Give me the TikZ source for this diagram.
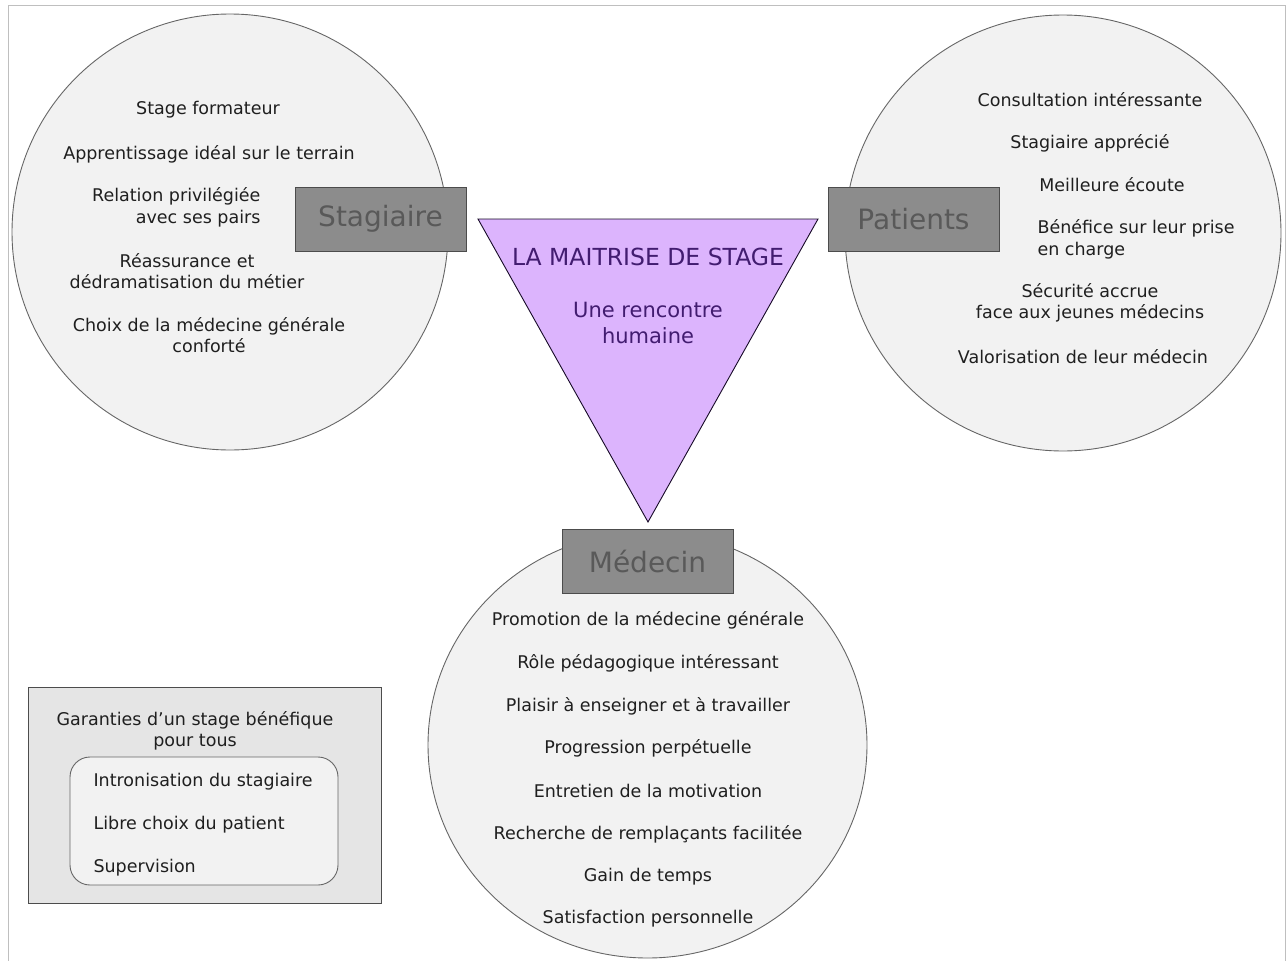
\documentclass[tikz,border=0pt]{standalone}
\usepackage{fontspec}
\setmainfont{DejaVu Sans}
\usetikzlibrary{positioning,shapes.geometric}
\definecolor{lilas}{RGB}{220,180,253}
\definecolor{violet}{RGB}{66,28,112}

\begin{document}
\begin{tikzpicture}[x=1pt,y=-1pt,
    every node/.style={font=\fontsize{17.5}{21.5}\selectfont,text=black!88},
    bulle/.style={ellipse,draw=black!60,line width=0.9pt,fill=black!5,minimum size=436pt,inner sep=0pt},
    acteur/.style={draw=black!70,line width=0.9pt,fill=black!45,text=black!65,minimum width=171pt,
      minimum height=64pt,font=\fontsize{28}{30}\selectfont},
    point/.style={align=center,yshift=-2pt}]
  \useasboundingbox (0,0) rectangle (1288,961);
  \draw[black!25,line width=1.5pt] (8.5,961) -- (8.5,5.5) -- (1285.5,5.5) -- (1285.5,961);

  % les trois bulles
  \node[bulle] (bstagiaire) at (230,232) {};
  \node[bulle] (bpatients) at (1063,233) {};
  \node[bulle,minimum width=439pt,minimum height=426pt] (bmedecin) at (647.5,745) {};

  \node[acteur] (stagiaire) at (380.5,219) {Stagiaire};
  \node[acteur] (patients) at (913.5,219.5) {Patients};
  \node[acteur] (medecin) at (647.5,561) {Médecin};

  % le triangle
  \coordinate (tg) at (478,219);
  \coordinate (td) at (818,219);
  \coordinate (tb) at (648,522);
  \filldraw[fill=lilas,draw=black!65!violet,line width=0.9pt] (tg) -- (td) -- (tb) -- cycle;
  \node[point,text=violet,font=\fontsize{23.5}{26}\selectfont] (maitrise) at (648,255) {LA MAITRISE DE STAGE};
  \node[point,text=violet,font=\fontsize{21}{26}\selectfont] (rencontre) at (648,321) {Une rencontre\\humaine};

  % stagiaire
  \node[point] (s1) at (208,108) {Stage formateur};
  \node[point,align=right,anchor=east] (s3) at (264,205.5) {Relation privilégiée\\avec ses pairs};
  \node[point] (s2) at (209,152) {Apprentissage idéal sur le terrain};
  \node[point] (s4) at (187,269) {Réassurance et\\dédramatisation du métier};
  \node[point] (s5) at (209,333) {Choix de la médecine générale\\conforté};

  % patients
  \node[point] (p1) at (1090,98) {Consultation intéressante};
  \node[point] (p2) at (1090,141) {Stagiaire apprécié};
  \node[point] (p3) at (1112,183) {Meilleure écoute};
  \node[point,align=left,anchor=west] (p4) at (1034,237.5) {Bénéfice sur leur prise\\en charge};
  \node[point] (p5) at (1090,301) {Sécurité accrue\\face aux jeunes médecins};
  \node[point] (p6) at (1083,355) {Valorisation de leur médecin};

  % medecin
  \node[point] (m1) at (648,618) {Promotion de la médecine générale};
  \node[point] (m2) at (648,661) {Rôle pédagogique intéressant};
  \node[point] (m3) at (648,704) {Plaisir à enseigner et à travailler};
  \node[point] (m4) at (648,746) {Progression perpétuelle};
  \node[point] (m5) at (648,789) {Entretien de la motivation};
  \node[point] (m6) at (648,832) {Recherche de remplaçants facilitée};
  \node[point] (m7) at (648,875) {Gain de temps};
  \node[point] (m8) at (648,917) {Satisfaction personnelle};

  % garanties
  \node[draw=black!70,line width=0.9pt,fill=black!10,minimum width=353pt,minimum height=216pt] (garanties) at (204.5,795) {};
  \node[point] (gtitre) at (195,729) {Garanties d’un stage bénéfique\\pour tous};
  \node[draw=black!60,line width=0.9pt,fill=black!5,rounded corners=20pt,minimum width=268pt,minimum height=128pt] (conditions) at (204,821) {};
  \node[point,anchor=west] (g1) at (90,780) {Intronisation du stagiaire};
  \node[point,anchor=west] (g2) at (90,823) {Libre choix du patient};
  \node[point,anchor=west] (g3) at (90,866) {Supervision};
\end{tikzpicture}
\end{document}
